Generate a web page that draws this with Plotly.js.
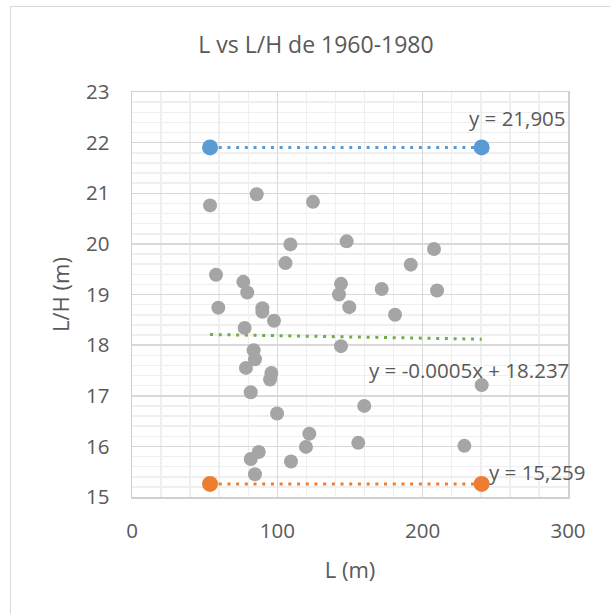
<!DOCTYPE html>
<html>
<head>
<meta charset="utf-8">
<script src="https://cdn.plot.ly/plotly-3.0.1.min.js"></script>
<style>
  html, body { margin: 0; padding: 0; background: #fff; }
  #wrap { position: relative; width: 610px; height: 614px; overflow: hidden; }
  #chart { position: absolute; left: 0; top: 0; width: 610px; height: 614px; }
  #frame { position: absolute; left: 10px; top: 6px; width: 640px; height: 640px;
           border: 1px solid #d9d9d9; pointer-events: none; z-index: 5; }
</style>
</head>
<body>
<div id="wrap">
  <div id="chart"></div>
  <div id="frame"></div>
</div>
<script>
// Data
const lengthL = [53.7, 85.8, 124.5, 109.0, 147.7, 105.6, 207.8, 191.8, 57.8, 76.6,
                 79.3, 143.8, 142.4, 171.8, 209.9, 59.4, 89.7, 89.7, 149.5, 97.7,
                 181.0, 77.5, 143.8, 83.7, 84.6, 78.4, 95.9, 95.0, 240.6, 159.8,
                 81.7, 99.8, 122.0, 119.7, 155.7, 228.7, 87.2, 81.7, 109.4, 84.6];
const ratioLH = [20.76, 20.98, 20.83, 19.99, 20.05, 19.62, 19.90, 19.59, 19.39, 19.25,
                 19.04, 19.21, 19.00, 19.11, 19.08, 18.74, 18.73, 18.66, 18.75, 18.48,
                 18.60, 18.34, 17.98, 17.90, 17.72, 17.55, 17.45, 17.32, 17.21, 16.80,
                 17.07, 16.65, 16.25, 15.99, 16.07, 16.01, 15.89, 15.75, 15.70, 15.45];
const maxLineX = [53.7, 240.6];
const maxLineY = [21.905, 21.905];
const minLineX = [53.7, 240.6];
const minLineY = [15.259, 15.259];
const trendX = [53.7, 240.6];
const trendY = [18.21, 18.117];
const labelMax = "y = 21,905";
const labelTrend = "y = -0.0005x + 18.237";
const labelMin = "y = 15,259";
const xTicks = [0, 100, 200, 300];
const yTicks = [15, 16, 17, 18, 19, 20, 21, 22, 23];

const FONT = "Open Sans, Noto Sans, sans-serif";
const TXT = "#595959";

const traces = [
  { x: maxLineX, y: maxLineY, type: "scatter", mode: "lines+markers",
    line: { color: "#5B9BD5", width: 3, dash: "3px,5.7px" },
    marker: { color: "#5B9BD5", size: 16 }, hoverinfo: "skip" },
  { x: minLineX, y: minLineY, type: "scatter", mode: "lines+markers",
    line: { color: "#ED7D31", width: 3, dash: "3px,5.7px" },
    marker: { color: "#ED7D31", size: 16 }, hoverinfo: "skip" },
  { x: trendX, y: trendY, type: "scatter", mode: "lines",
    line: { color: "#70AD47", width: 3, dash: "3px,5.7px" }, hoverinfo: "skip" },
  { x: lengthL, y: ratioLH, type: "scatter", mode: "markers",
    marker: { color: "#A5A5A5", size: 14 } }
];

const layout = {
  width: 610, height: 614,
  margin: { l: 132, r: 42, t: 92, b: 117 },
  paper_bgcolor: "#ffffff", plot_bgcolor: "#ffffff",
  showlegend: false,
  font: { family: FONT, color: TXT, size: 20 },
  title: { text: "L vs L/H de 1960-1980", font: { family: FONT, size: 23, color: TXT },
           x: 0.518, xref: "container", xanchor: "center",
           y: 1 - 45 / 614, yref: "container", yanchor: "middle" },
  xaxis: {
    range: [0, 300], tickvals: xTicks, ticks: "", ticklabelstandoff: 15,
    tickfont: { family: FONT, size: 20.5, color: TXT },
    showgrid: true, gridcolor: "#d9d9d9", gridwidth: 1.5,
    minor: { dtick: 20, showgrid: true, gridcolor: "#efefef", gridwidth: 1.5, ticks: "" },
    showline: true, linecolor: "#d0d0d0", linewidth: 1.5, mirror: true, zeroline: false,
    title: { text: "L (m)", font: { family: FONT, size: 22, color: TXT }, standoff: 19 }
  },
  yaxis: {
    range: [15, 23], tickvals: yTicks, ticks: "", ticklabelstandoff: 17,
    tickfont: { family: FONT, size: 20.5, color: TXT },
    showgrid: true, gridcolor: "#d9d9d9", gridwidth: 1.5,
    minor: { dtick: 0.2, showgrid: true, gridcolor: "#efefef", gridwidth: 1.5, ticks: "" },
    showline: true, linecolor: "#d0d0d0", linewidth: 1.5, mirror: true, zeroline: false,
    title: { text: "L/H (m)", font: { family: FONT, size: 22, color: TXT }, standoff: 10 }
  },
  annotations: [
    { x: 300, y: 22.49, xref: "x", yref: "y", text: labelMax, showarrow: false,
      xanchor: "right", yanchor: "middle", font: { family: FONT, size: 20.5, color: TXT } },
    { x: 300, y: 17.51, xref: "x", yref: "y", xshift: 3, text: labelTrend, showarrow: false,
      xanchor: "right", yanchor: "middle", font: { family: FONT, size: 20.5, color: TXT } },
    { x: 300, y: 15.49, xref: "x", yref: "y", xshift: 20, text: labelMin, showarrow: false,
      xanchor: "right", yanchor: "middle", font: { family: FONT, size: 20.5, color: TXT } }
  ]
};

Plotly.newPlot("chart", traces, layout, { displayModeBar: false, staticPlot: true });
</script>
</body>
</html>
